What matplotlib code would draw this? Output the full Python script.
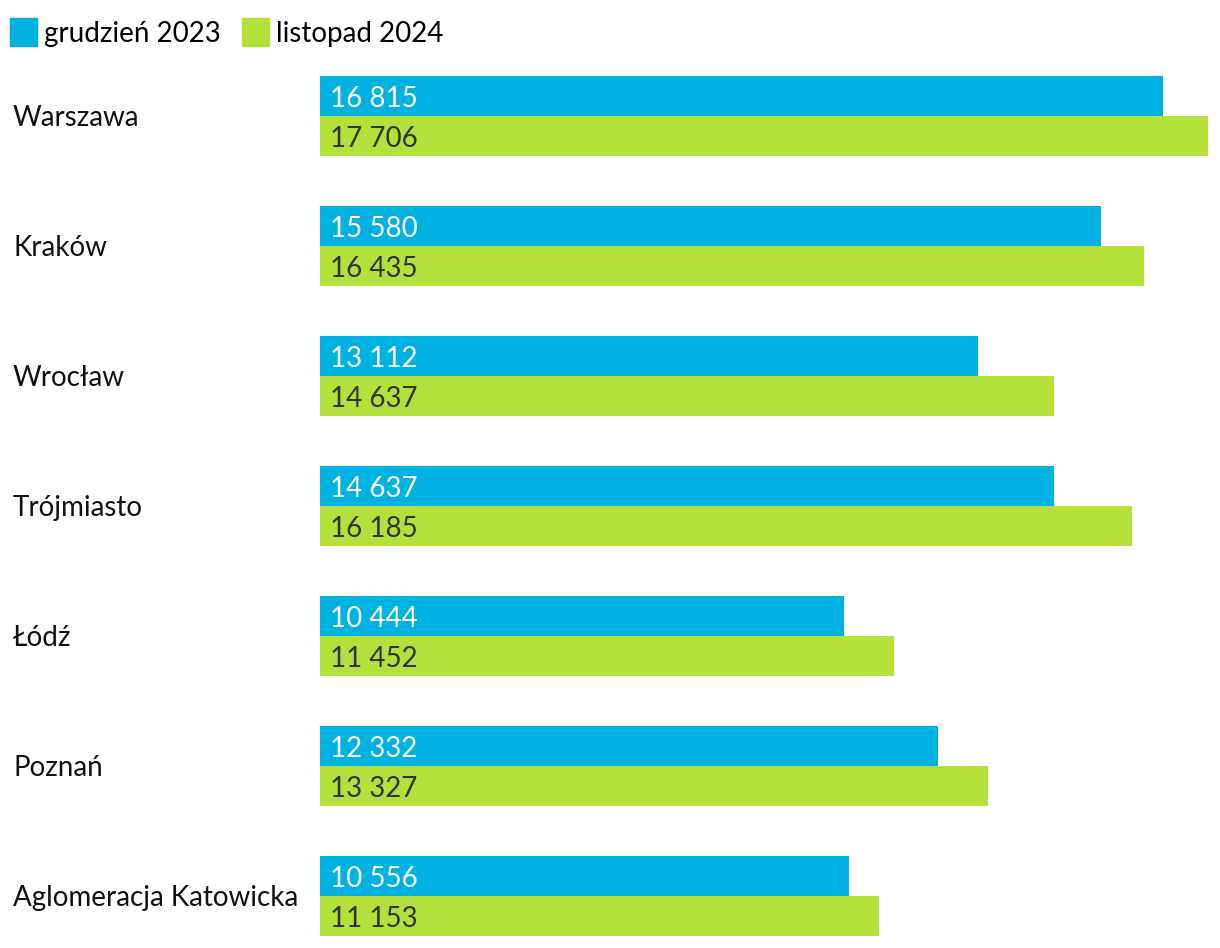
import matplotlib.pyplot as plt
from matplotlib.patches import Rectangle

plt.rcParams['font.family'] = ['Lato', 'DejaVu Sans']

cities = ['Warszawa', 'Kraków', 'Wrocław', 'Trójmiasto', 'Łódź', 'Poznań',
          'Aglomeracja Katowicka']
dec_2023 = [16815, 15580, 13112, 14637, 10444, 12332, 10556]
nov_2024 = [17706, 16435, 14637, 16185, 11452, 13327, 11153]
series_names = ['grudzień 2023', 'listopad 2024']

blue = '#00b2e2'
green = '#b3e03a'


def fmt(v):
    return f'{v:,}'.replace(',', ' ')


fig = plt.figure(figsize=(12.2, 9.48), dpi=100)
W, H = 1220, 948
# axes: x from 320 to 1208 px, y from 76 to 936 px
ax = fig.add_axes([320 / W, 1 - 936 / H, (1208 - 320) / W, (936 - 76) / H])

bh = 40 / 130
y = list(range(len(cities)))
ax.barh([i - bh / 2 for i in y], dec_2023, height=bh, color=blue)
ax.barh([i + bh / 2 for i in y], nov_2024, height=bh, color=green)
ax.set_xlim(0, max(nov_2024))
ax.set_ylim(len(cities) - 1 + bh, -bh)
ax.axis('off')

fs = 20
for i in y:
    ax.text(200, i - bh / 2 + 0.02, fmt(dec_2023[i]), color='white', fontsize=fs,
            va='center', ha='left')
    ax.text(200, i + bh / 2 + 0.02, fmt(nov_2024[i]), color='#333333', fontsize=fs,
            va='center', ha='left')
    fig.text(13 / W, 1 - (118 + 130 * i) / H, cities[i], fontsize=fs,
             va='center', ha='left', color='#111111')

# legend
fig.patches.append(Rectangle((10 / W, 1 - 46 / H), 27 / W, 28 / H,
                             transform=fig.transFigure, color=blue))
fig.text(44 / W, 1 - 34 / H, series_names[0], fontsize=fs, va='center')
fig.patches.append(Rectangle((242 / W, 1 - 46 / H), 27 / W, 28 / H,
                             transform=fig.transFigure, color=green))
fig.text(276 / W, 1 - 34 / H, series_names[1], fontsize=fs, va='center')

fig.savefig('out.png', dpi=100)
